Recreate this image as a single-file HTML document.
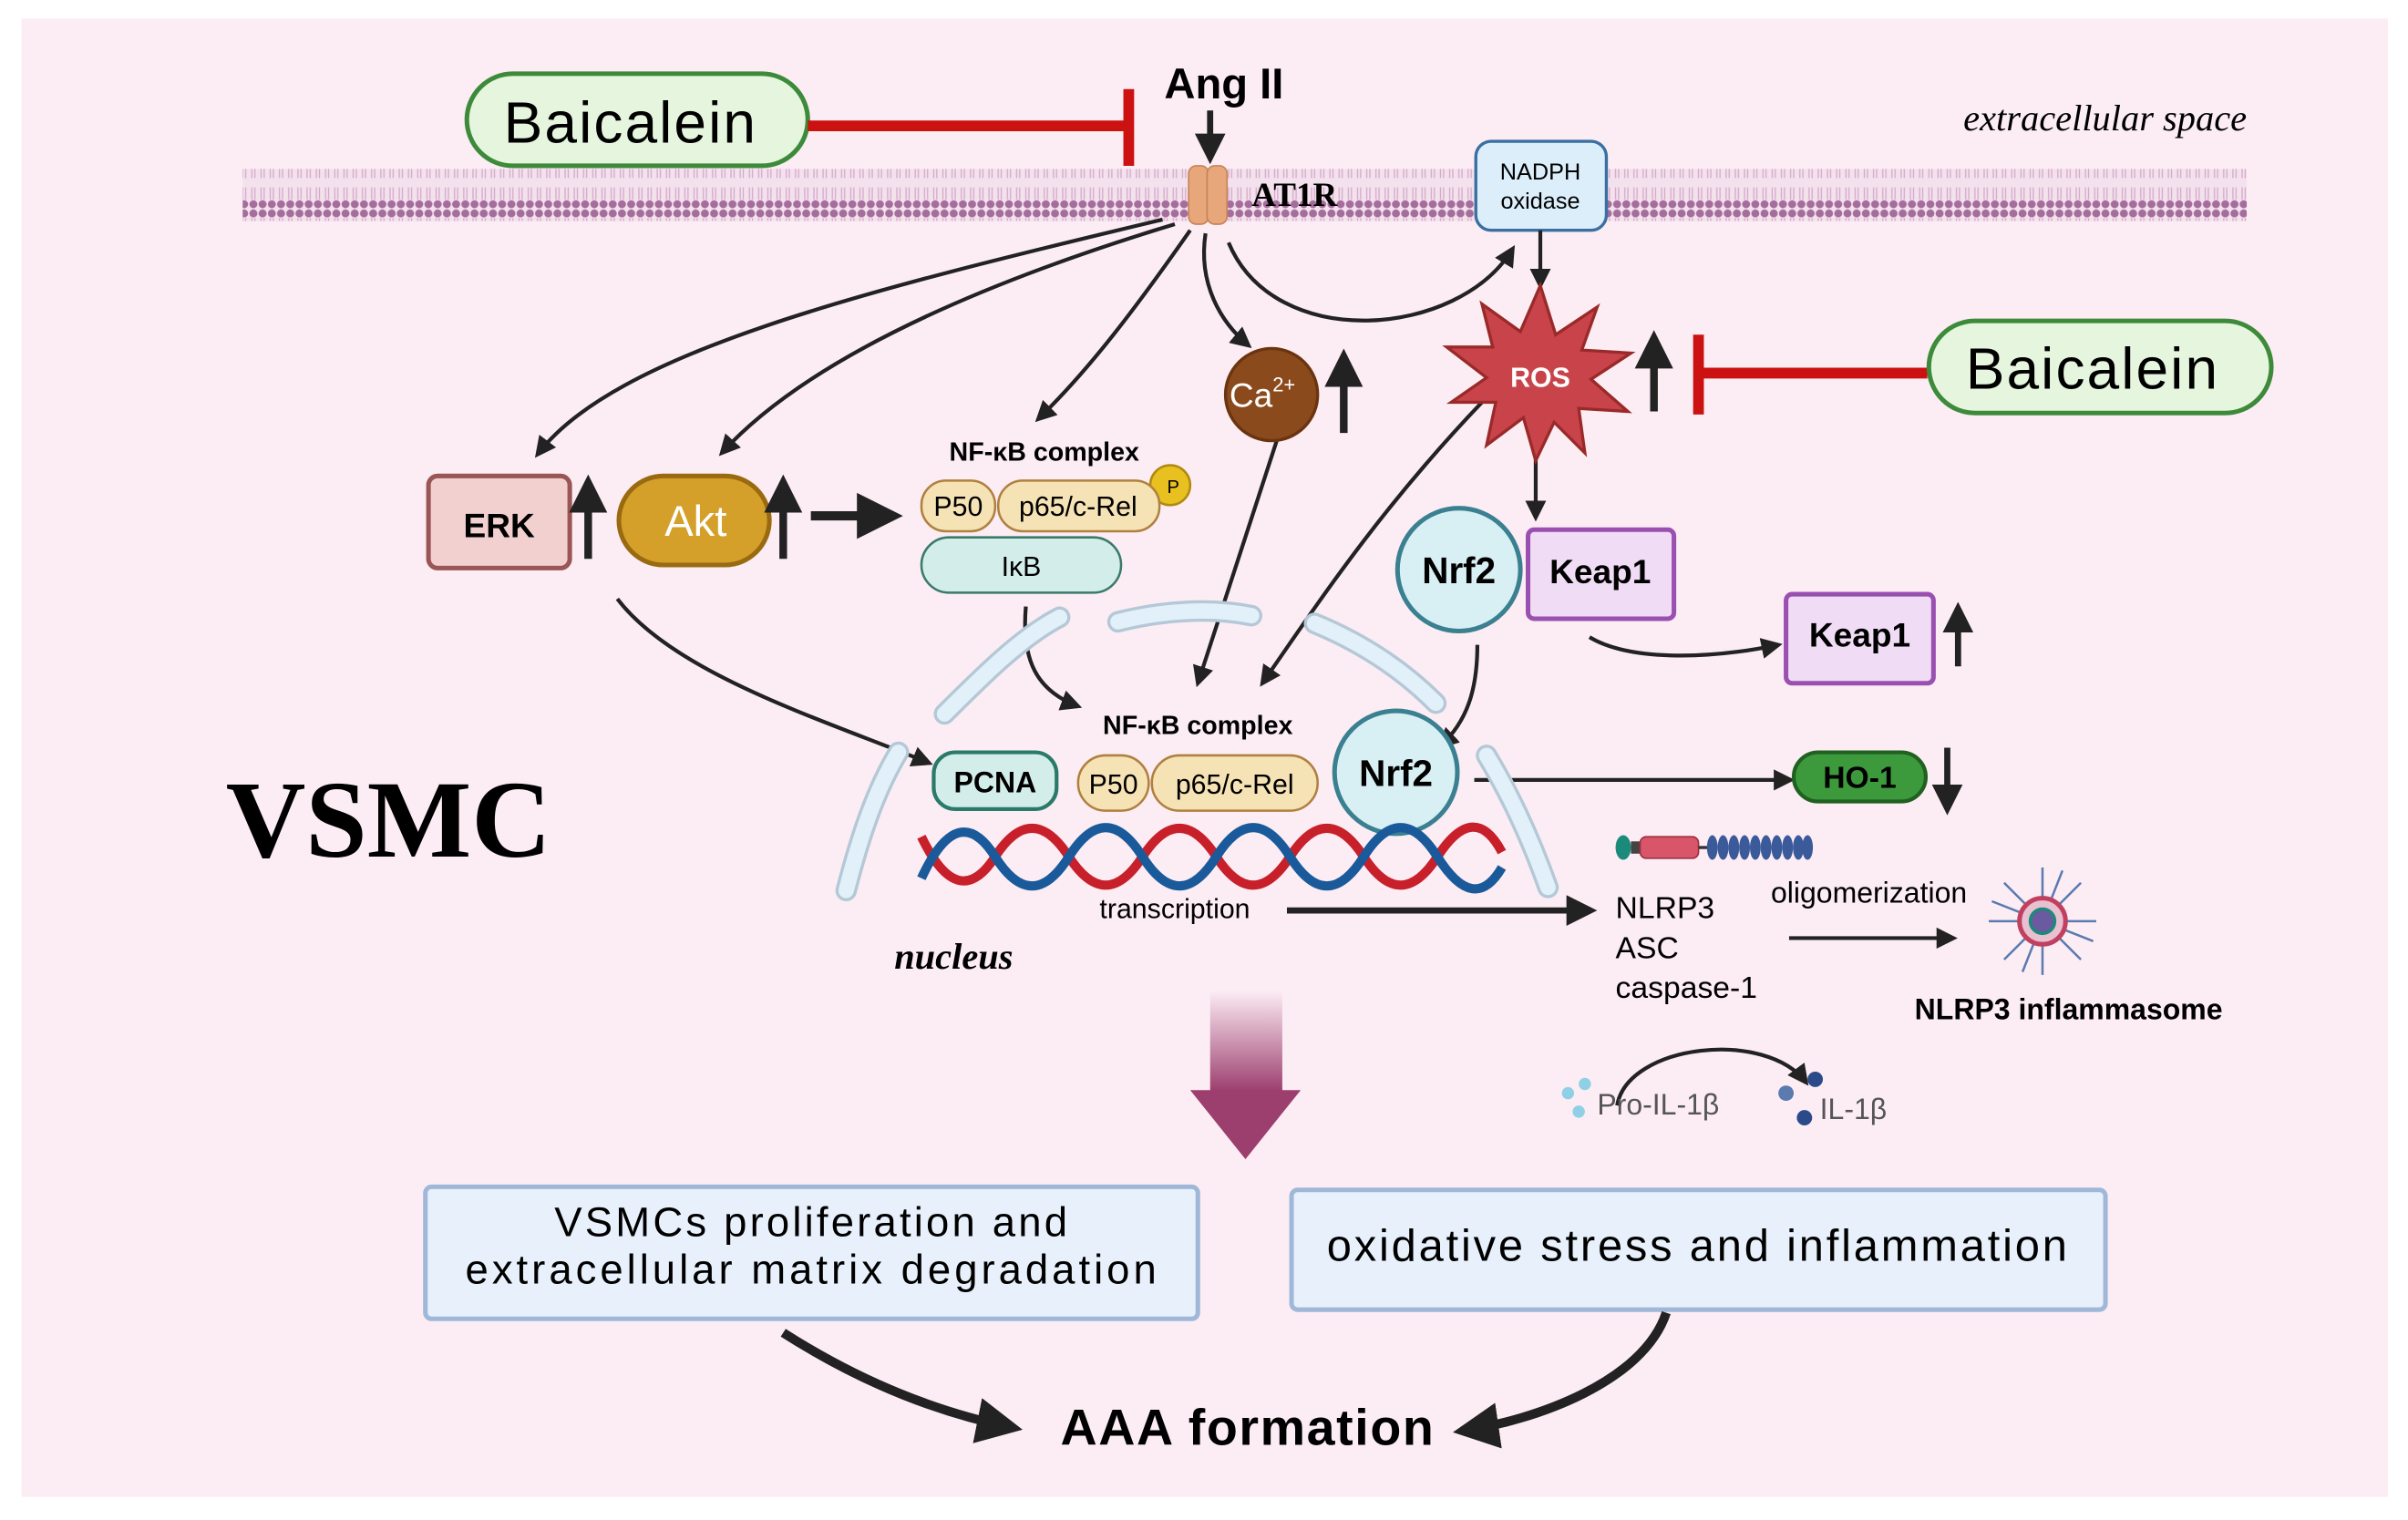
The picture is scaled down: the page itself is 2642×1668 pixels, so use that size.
<!DOCTYPE html>
<html><head><meta charset="utf-8"><style>
html,body{margin:0;padding:0;background:#fff;}
svg{display:block;}
text{font-family:"Liberation Sans",sans-serif;}
</style></head><body>
<svg width="2642" height="1668" viewBox="0 0 1568 990" preserveAspectRatio="none" xmlns="http://www.w3.org/2000/svg">
<defs>
<marker id="ah" viewBox="0 0 10 10" refX="8" refY="5" markerWidth="5" markerHeight="5" orient="auto-start-reverse" markerUnits="strokeWidth"><path d="M0,0 L10,5 L0,10 z" fill="#222"/></marker>
<marker id="ah2" viewBox="0 0 10 10" refX="8" refY="5" markerWidth="5.5" markerHeight="5.5" orient="auto" markerUnits="strokeWidth"><path d="M0,0 L10,5 L0,10 z" fill="#222"/></marker>
<pattern id="mem" width="6" height="34" patternUnits="userSpaceOnUse">
<rect width="6" height="34" fill="#f3e2ee"/>
<circle cx="3" cy="3" r="2.6" fill="#a56d9c"/>
<circle cx="3" cy="31" r="2.6" fill="#a56d9c"/>
<path d="M2,6 L2,14 M4,6 L4,14 M2,20 L2,28 M4,20 L4,28" stroke="#d6a9c9" stroke-width="0.8"/>
</pattern>
<linearGradient id="bg" x1="0" y1="0" x2="0" y2="1"><stop offset="0" stop-color="#a04070" stop-opacity="0"/><stop offset="1" stop-color="#9c3e6e"/></linearGradient>
</defs>
<rect x="14" y="12" width="1541" height="963" fill="#fcedf4"/>
<rect x="158" y="110" width="1305" height="34" fill="url(#mem)"/>
<text x="1463" y="85" text-anchor="end" font-style="italic" font-size="24" style="font-family:'Liberation Serif',serif">extracellular space</text>
<rect x="304" y="48" width="222" height="60" rx="30" fill="#e6f6de" stroke="#3d8a3a" stroke-width="3"/>
<text x="410" y="93" text-anchor="middle" font-size="38" textLength="164">Baicalein</text>
<line x1="526" y1="82" x2="735" y2="82" stroke="#cc1111" stroke-width="7"/>
<line x1="735" y1="58" x2="735" y2="108" stroke="#cc1111" stroke-width="7"/>
<text x="797" y="64" text-anchor="middle" font-size="28" font-weight="bold">Ang II</text>
<line x1="788" y1="72" x2="788" y2="103" stroke="#222" stroke-width="4" marker-end="url(#ah)"/>
<rect x="774" y="108" width="13" height="38" rx="5" fill="#e8a77a" stroke="#c68458"/>
<rect x="786" y="108" width="13" height="38" rx="5" fill="#e8a77a" stroke="#c68458"/>
<text x="815" y="134" font-size="22" font-weight="bold" style="font-family:'Liberation Serif',serif">AT1R</text>
<rect x="961" y="92" width="85" height="58" rx="10" fill="#dceefa" stroke="#3a6fa0" stroke-width="2"/>
<text x="1003" y="117" text-anchor="middle" font-size="15">NADPH</text>
<text x="1003" y="136" text-anchor="middle" font-size="15">oxidase</text>
<g fill="none" stroke="#222" stroke-width="2.5">
<path d="M757,143 C560,190 400,230 350,296" marker-end="url(#ah2)"/>
<path d="M765,146 C620,190 520,240 470,295" marker-end="url(#ah2)"/>
<path d="M775,150 C740,200 710,240 676,273" marker-end="url(#ah2)"/>
<path d="M785,152 C780,185 795,210 813,225" marker-end="url(#ah2)"/>
<path d="M800,158 C830,230 950,220 985,162" marker-end="url(#ah2)"/>
<path d="M1003,150 L1003,186" marker-end="url(#ah2)"/>
<path d="M833,282 L780,445" marker-end="url(#ah2)"/>
<path d="M965,262 C900,330 860,390 822,445" marker-end="url(#ah2)"/>
<path d="M668,395 C665,430 675,450 702,460" marker-end="url(#ah2)"/>
<path d="M402,390 C440,440 540,470 605,497" marker-end="url(#ah2)"/>
<path d="M1000,295 L1000,337" marker-end="url(#ah2)"/>
<path d="M962,420 C962,450 955,470 938,486" marker-end="url(#ah2)"/>
<path d="M1035,415 C1060,430 1110,430 1158,420" marker-end="url(#ah2)"/>
<path d="M960,508 L1166,508" marker-end="url(#ah2)"/>
<path d="M1053,720 C1060,680 1150,670 1176,705" marker-end="url(#ah2)"/>
</g>
<polygon fill="#c9444a" stroke="#9a2a2a" stroke-width="2" points="1003,186 1013,218 1040,200 1030,228 1062,230 1036,247 1060,268 1028,266 1032,295 1012,275 1000,300 992,272 968,290 974,262 945,262 968,246 942,226 972,226 965,198 990,216"/>
<text x="1003" y="252" text-anchor="middle" font-size="18" font-weight="bold" fill="#fff">ROS</text>
<line x1="1077" y1="268" x2="1077" y2="220" stroke="#222" stroke-width="5" marker-end="url(#ah)"/>
<line x1="1106" y1="243" x2="1255" y2="243" stroke="#cc1111" stroke-width="7"/>
<line x1="1106" y1="218" x2="1106" y2="270" stroke="#cc1111" stroke-width="7"/>
<rect x="1256" y="209" width="223" height="60" rx="30" fill="#e6f6de" stroke="#3d8a3a" stroke-width="3"/>
<text x="1362" y="253" text-anchor="middle" font-size="38" textLength="164">Baicalein</text>
<circle cx="828" cy="257" r="30" fill="#8b4a1c" stroke="#6b3410" stroke-width="2"/>
<text x="822" y="265" text-anchor="middle" font-size="22" fill="#fff">Ca<tspan font-size="13" dy="-10">2+</tspan></text>
<line x1="875" y1="282" x2="875" y2="232" stroke="#222" stroke-width="5" marker-end="url(#ah)"/>
<rect x="279" y="310" width="92" height="60" rx="6" fill="#f2d0d0" stroke="#9a5555" stroke-width="3"/>
<text x="325" y="350" text-anchor="middle" font-size="22" font-weight="bold">ERK</text>
<line x1="383" y1="364" x2="383" y2="314" stroke="#222" stroke-width="5" marker-end="url(#ah)"/>
<rect x="403" y="310" width="98" height="58" rx="29" fill="#d4a02a" stroke="#9a6a10" stroke-width="3"/>
<text x="453" y="349" text-anchor="middle" font-size="28" fill="#fff">Akt</text>
<line x1="510" y1="364" x2="510" y2="314" stroke="#222" stroke-width="5" marker-end="url(#ah)"/>
<line x1="528" y1="336" x2="582" y2="336" stroke="#222" stroke-width="6" marker-end="url(#ah)"/>
<text x="680" y="300" text-anchor="middle" font-size="17" font-weight="bold">NF-κB complex</text>
<circle cx="762" cy="316" r="13" fill="#e8c020" stroke="#b08a10" stroke-width="1.5"/>
<text x="764" y="321" text-anchor="middle" font-size="12">P</text>
<rect x="600" y="313" width="48" height="33" rx="16" fill="#f5e2b5" stroke="#b08040" stroke-width="1.5"/>
<text x="624" y="336" text-anchor="middle" font-size="18">P50</text>
<rect x="650" y="313" width="105" height="33" rx="16" fill="#f5e2b5" stroke="#b08040" stroke-width="1.5"/>
<text x="702" y="336" text-anchor="middle" font-size="18">p65/c-Rel</text>
<rect x="600" y="350" width="130" height="36" rx="18" fill="#d3eeea" stroke="#3a7a6a" stroke-width="1.5"/>
<text x="665" y="375" text-anchor="middle" font-size="18">IκB</text>
<g fill="none" stroke-linecap="round">
<g stroke="#b4c8d6" stroke-width="14">
<path d="M615,465 C640,440 665,415 690,402"/><path d="M728,405 C760,397 790,396 815,401"/><path d="M856,406 C890,420 915,438 935,458"/><path d="M551,580 C560,545 570,515 585,490"/><path d="M968,492 C985,520 998,550 1008,578"/>
</g>
<g stroke="#e2f0fa" stroke-width="10">
<path d="M615,465 C640,440 665,415 690,402"/><path d="M728,405 C760,397 790,396 815,401"/><path d="M856,406 C890,420 915,438 935,458"/><path d="M551,580 C560,545 570,515 585,490"/><path d="M968,492 C985,520 998,550 1008,578"/>
</g>
</g>
<circle cx="950" cy="371" r="40" fill="#d8eff4" stroke="#3a8090" stroke-width="3"/>
<text x="950" y="380" text-anchor="middle" font-size="24" font-weight="bold">Nrf2</text>
<rect x="995" y="345" width="95" height="58" rx="4" fill="#f0ddf5" stroke="#9a50b0" stroke-width="3"/>
<text x="1042" y="380" text-anchor="middle" font-size="22" font-weight="bold">Keap1</text>
<rect x="1163" y="387" width="96" height="58" rx="4" fill="#f0ddf5" stroke="#9a50b0" stroke-width="3"/>
<text x="1211" y="421" text-anchor="middle" font-size="22" font-weight="bold">Keap1</text>
<line x1="1275" y1="434" x2="1275" y2="396" stroke="#222" stroke-width="4" marker-end="url(#ah)"/>
<text x="780" y="478" text-anchor="middle" font-size="17" font-weight="bold">NF-κB complex</text>
<rect x="608" y="490" width="80" height="37" rx="14" fill="#d3eeea" stroke="#2a7a6a" stroke-width="2.5"/>
<text x="648" y="516" text-anchor="middle" font-size="19" font-weight="bold">PCNA</text>
<rect x="702" y="492" width="46" height="36" rx="18" fill="#f5e2b5" stroke="#b08040" stroke-width="1.5"/>
<text x="725" y="517" text-anchor="middle" font-size="18">P50</text>
<rect x="750" y="492" width="108" height="36" rx="18" fill="#f5e2b5" stroke="#b08040" stroke-width="1.5"/>
<text x="804" y="517" text-anchor="middle" font-size="18">p65/c-Rel</text>
<circle cx="909" cy="503" r="40" fill="#d8eff4" stroke="#3a8090" stroke-width="3"/>
<text x="909" y="512" text-anchor="middle" font-size="24" font-weight="bold">Nrf2</text>
<rect x="1168" y="490" width="86" height="32" rx="16" fill="#3c9a3c" stroke="#206020" stroke-width="2.5"/>
<text x="1211" y="513" text-anchor="middle" font-size="20" font-weight="bold">HO-1</text>
<line x1="1268" y1="487" x2="1268" y2="527" stroke="#222" stroke-width="4" marker-end="url(#ah)"/>
<path d="M600,545 Q624,595 648,558 T696,558 T744,558 T792,558 T840,558 T888,558 T936,558 T978,555" fill="none" stroke="#c8202a" stroke-width="6"/>
<path d="M600,572 Q624,520 648,558 T696,558 T744,558 T792,558 T840,558 T888,558 T936,558 T978,565" fill="none" stroke="#1a5a9a" stroke-width="6"/>
<text x="765" y="598" text-anchor="middle" font-size="18">transcription</text>
<line x1="838" y1="593" x2="1036" y2="593" stroke="#222" stroke-width="4" marker-end="url(#ah)"/>
<ellipse cx="1057" cy="552" rx="5" ry="8" fill="#1a8a7a"/>
<rect x="1062" y="548" width="6" height="8" fill="#444"/>
<rect x="1068" y="545" width="38" height="14" rx="4" fill="#d8556a" stroke="#a03040"/>
<line x1="1106" y1="552" x2="1112" y2="552" stroke="#333" stroke-width="2"/>
<g fill="#3a5a9a"><ellipse cx="1115" cy="552" rx="3.5" ry="8"/><ellipse cx="1122" cy="552" rx="3.5" ry="8"/><ellipse cx="1129" cy="552" rx="3.5" ry="8"/><ellipse cx="1136" cy="552" rx="3.5" ry="8"/><ellipse cx="1143" cy="552" rx="3.5" ry="8"/><ellipse cx="1150" cy="552" rx="3.5" ry="8"/><ellipse cx="1157" cy="552" rx="3.5" ry="8"/><ellipse cx="1164" cy="552" rx="3.5" ry="8"/><ellipse cx="1171" cy="552" rx="3.5" ry="8"/><ellipse cx="1177" cy="552" rx="3.5" ry="8"/></g>
<text x="1052" y="598" font-size="20">NLRP3</text>
<text x="1052" y="624" font-size="20">ASC</text>
<text x="1052" y="650" font-size="20">caspase-1</text>
<text x="1217" y="588" text-anchor="middle" font-size="19">oligomerization</text>
<line x1="1165" y1="611" x2="1272" y2="611" stroke="#222" stroke-width="2.5" marker-end="url(#ah2)"/>
<g stroke="#5a7ab0" stroke-width="1.5">
<line x1="1330" y1="600" x2="1365" y2="600"/><line x1="1330" y1="600" x2="1295" y2="600"/><line x1="1330" y1="600" x2="1330" y2="565"/><line x1="1330" y1="600" x2="1330" y2="635"/>
<line x1="1330" y1="600" x2="1355" y2="575"/><line x1="1330" y1="600" x2="1305" y2="625"/><line x1="1330" y1="600" x2="1355" y2="625"/><line x1="1330" y1="600" x2="1305" y2="575"/>
<line x1="1330" y1="600" x2="1343" y2="567"/><line x1="1330" y1="600" x2="1317" y2="633"/><line x1="1330" y1="600" x2="1363" y2="613"/><line x1="1330" y1="600" x2="1297" y2="587"/>
</g>
<circle cx="1330" cy="600" r="15" fill="#e8c0d0" stroke="#c04060" stroke-width="3"/>
<circle cx="1330" cy="600" r="8" fill="#6a5aa0" stroke="#1a8a7a" stroke-width="2"/>
<text x="1347" y="664" text-anchor="middle" font-size="19" font-weight="bold">NLRP3 inflammasome</text>
<g fill="#8fd0e6"><circle cx="1021" cy="712" r="4"/><circle cx="1032" cy="706" r="4"/><circle cx="1028" cy="724" r="4"/></g>
<text x="1040" y="726" font-size="19" fill="#555">Pro-IL-1β</text>
<g fill="#2a4a8a"><circle cx="1163" cy="712" r="5" fill="#5a7ab0"/><circle cx="1182" cy="703" r="5"/><circle cx="1175" cy="728" r="5"/></g>
<text x="1185" y="729" font-size="19" fill="#555">IL-1β</text>
<text x="253" y="558" text-anchor="middle" font-size="72" font-weight="bold" style="font-family:'Liberation Serif',serif">VSMC</text>
<text x="621" y="631" text-anchor="middle" font-size="24" font-weight="bold" font-style="italic" style="font-family:'Liberation Serif',serif">nucleus</text>
<rect x="788" y="645" width="47" height="66" fill="url(#bg)"/>
<polygon points="775,710 847,710 811,755" fill="#9c3e6e"/>
<rect x="277" y="773" width="503" height="86" rx="4" fill="#e8f1fb" stroke="#a0b8d8" stroke-width="3"/>
<text x="528" y="805" text-anchor="middle" font-size="27" textLength="334">VSMCs proliferation and</text>
<text x="528" y="836" text-anchor="middle" font-size="27" textLength="450">extracellular matrix degradation</text>
<rect x="841" y="775" width="530" height="78" rx="4" fill="#e8f1fb" stroke="#a0b8d8" stroke-width="3"/>
<text x="1105" y="821" text-anchor="middle" font-size="29" textLength="482">oxidative stress and inflammation</text>
<text x="812" y="941" text-anchor="middle" font-size="33" font-weight="bold" textLength="243">AAA formation</text>
<path d="M510,868 C560,900 610,920 660,930" fill="none" stroke="#222" stroke-width="6" marker-end="url(#ah)"/>
<path d="M1085,855 C1070,900 1000,925 952,932" fill="none" stroke="#222" stroke-width="6" marker-end="url(#ah)"/>
</svg>
</body></html>
